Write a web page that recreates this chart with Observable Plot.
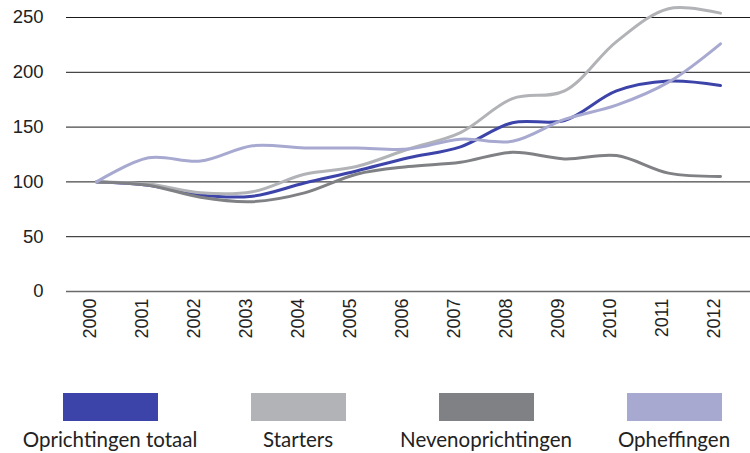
<!DOCTYPE html>
<html>
<head>
<meta charset="utf-8">
<script src="https://cdn.jsdelivr.net/npm/d3@7"></script>
<script src="https://cdn.jsdelivr.net/npm/@observablehq/plot@0.6"></script>
<style>
  html, body { margin: 0; padding: 0; background: #fff; overflow: hidden; }
  #chart svg { display: block; }
  #legend { display: flex; padding-left: 16px; margin-top: 8px; width: 800px; }
  .item { width: 188px; flex: 0 0 188px; display: flex; flex-direction: column; align-items: center; }
  .sw { width: 95px; height: 28px; }
  .lab { font-family: Lato, "Open Sans", sans-serif; font-size: 20.5px; color: #222; margin-top: 6px; white-space: nowrap; }
</style>
</head>
<body>
<div id="chart"></div>
<div id="legend"></div>
<script>
const years = [2000, 2001, 2002, 2003, 2004, 2005, 2006, 2007, 2008, 2009, 2010, 2011, 2012];
const seriesNames = ["Oprichtingen totaal", "Starters", "Nevenoprichtingen", "Opheffingen"];
const colors = ["#3d44a9", "#b1b3b6", "#808185", "#a8a9d0"];
const oprichtingenTotaal = [100, 97, 88, 87, 99, 110, 122, 132, 154, 156, 183, 192, 188];
const starters = [100, 98, 90, 91, 107, 114, 130, 145, 176, 183, 228, 258, 254];
const nevenoprichtingen = [100, 97, 86, 82, 90, 107, 114, 118, 127, 121, 124, 108, 105];
const opheffingen = [100, 122, 119, 133, 131, 131, 130, 139, 137, 157, 170, 191, 226];
const yTicks = [0, 50, 100, 150, 200, 250];

const allSeries = [oprichtingenTotaal, starters, nevenoprichtingen, opheffingen];
const data = [];
seriesNames.forEach((name, i) => {
  years.forEach((yr, j) => data.push({series: name, year: yr, value: allSeries[i][j]}));
});

const axisFont = "Liberation Sans";
const chart = Plot.plot({
  width: 750,
  height: 385,
  marginTop: 17,
  marginBottom: 94,
  marginLeft: 66,
  marginRight: 0,
  x: {type: "point", domain: years, padding: 0.5},
  y: {domain: [0, 250]},
  color: {domain: seriesNames, range: colors},
  style: {fontFamily: axisFont, color: "#222", background: "#fff"},
  marks: [
    Plot.ruleY(yTicks.filter(d => d > 0), {stroke: "#1a1a1a", strokeWidth: 1}),
    Plot.ruleY([0], {stroke: "#6a6a6a", strokeWidth: 1.6}),
    Plot.axisY({ticks: yTicks, tickSize: 0, tickPadding: 23, fontSize: 18.5, fontFamily: axisFont, label: null}),
    Plot.axisX({tickSize: 0, tickRotate: -90, tickPadding: 7, fontSize: 18, fontFamily: axisFont, dx: -6, label: null, tickFormat: d => String(d)}),
    Plot.line(data, {x: "year", y: "value", z: "series", stroke: "series", strokeWidth: 3, curve: "catmull-rom"})
  ]
});
document.getElementById("chart").appendChild(chart);

const legend = document.getElementById("legend");
seriesNames.forEach((name, i) => {
  const item = document.createElement("div");
  item.className = "item";
  const sw = document.createElement("div");
  sw.className = "sw";
  sw.style.background = colors[i];
  const lab = document.createElement("div");
  lab.className = "lab";
  lab.textContent = name;
  item.appendChild(sw);
  item.appendChild(lab);
  legend.appendChild(item);
});
</script>
</body>
</html>
